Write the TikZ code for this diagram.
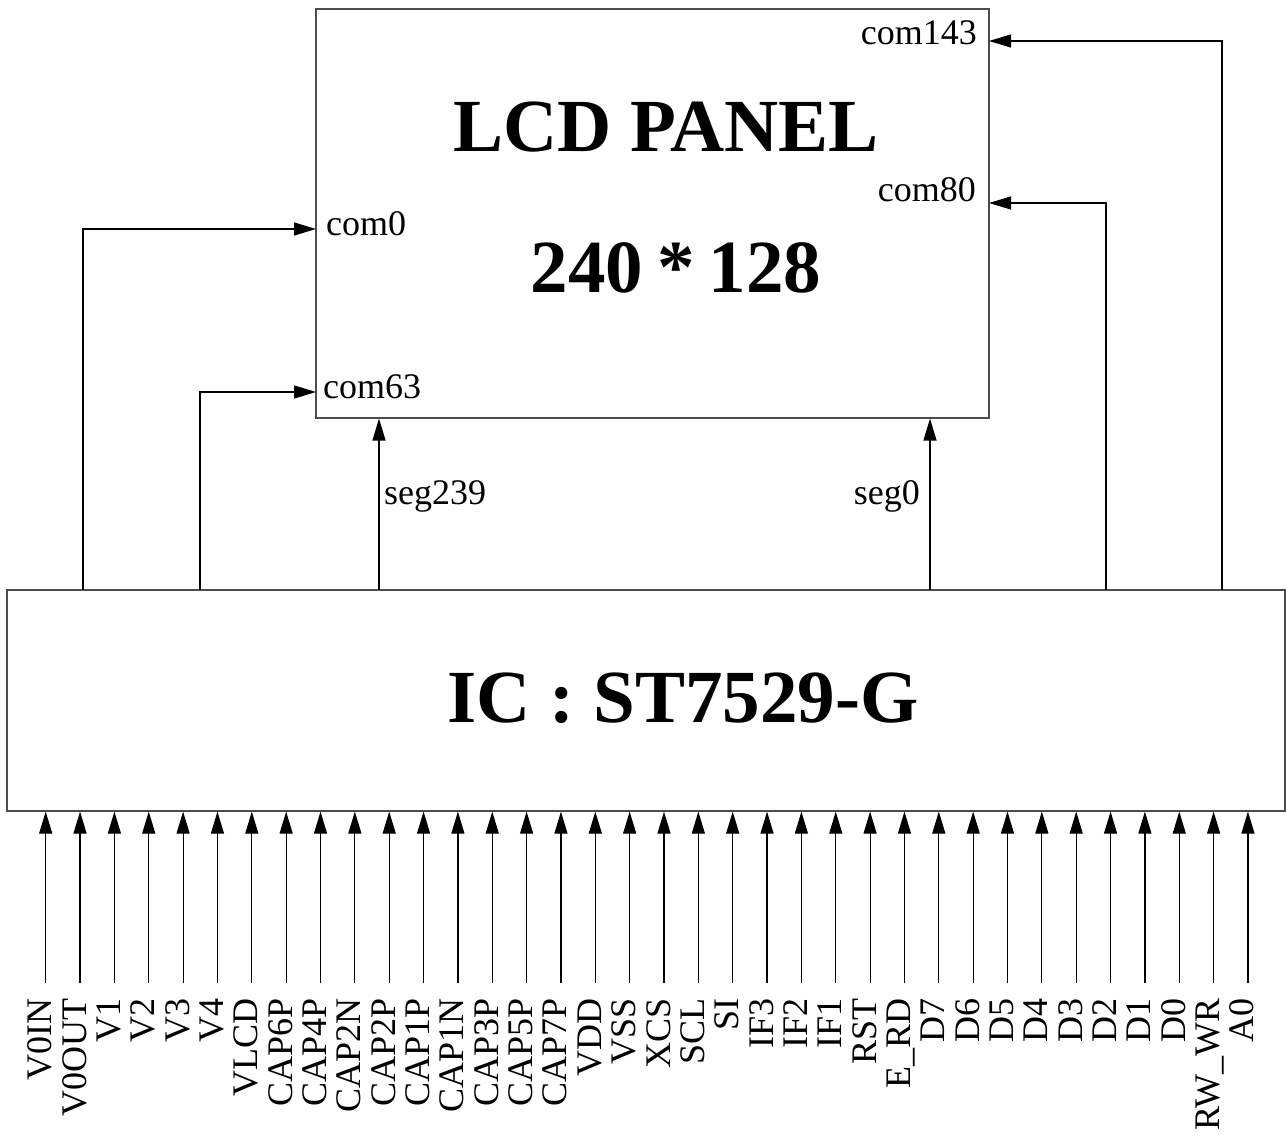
\documentclass[tikz,border=0pt]{standalone}
\usepackage{fontspec}
\setmainfont{Liberation Serif}
\usetikzlibrary{arrows.meta}
\newcommand\pinfont{\fontsize{36}{40}\selectfont}
\newcommand\titlefont{\fontsize{75}{80}\selectfont\bfseries}
\tikzset{
  chip/.style={draw=black!70,line width=1.2pt,rectangle,inner sep=0pt},
  sig/.style={draw=black,line width=1.2pt,-{Triangle[length=22pt,width=13pt]}},
  lbl/.style={inner sep=0pt,font=\pinfont}
}
\begin{document}
\begin{tikzpicture}[x=1pt,y=-1pt]
\useasboundingbox (0,0) rectangle (1286,1139);

\node[chip,minimum width=673pt,minimum height=409pt] (lcd) at (652.5,213.5) {};
\node[chip,minimum width=1278pt,minimum height=221pt] (ic) at (646,700.5) {};
\node[anchor=base,inner sep=0pt,font=\titlefont] (lcdname) at (666,152) {LCD PANEL};
\node[anchor=base,inner sep=0pt,font=\titlefont] (lcdsize) at (676,293) {240\hspace{14pt}*\hspace{14pt}128};
\node[anchor=base,inner sep=0pt,font=\titlefont] (icname) at (683,722) {IC : ST7529-G};

\coordinate (c0) at (316,229);
\coordinate (c63) at (316,392);
\coordinate (c80) at (989,203);
\coordinate (c143) at (989,41);
\coordinate (ic0) at (83,590);
\coordinate (ic63) at (200,590);
\coordinate (ic80) at (1106,590);
\coordinate (ic143) at (1222,590);
\coordinate (s239) at (379,590);
\coordinate (s0) at (930,590);

\draw[sig] (ic0) |- (c0);
\draw[sig] (ic63) |- (c63);
\draw[sig] (ic80) |- (c80);
\draw[sig] (ic143) |- (c143);
\draw[sig] (s239) -- (s239 |- lcd.south);
\draw[sig] (s0) -- (s0 |- lcd.south);

\node[lbl,anchor=base west] (lc0) at (326,236) {com0};
\node[lbl,anchor=base west] (lc63) at (323,399) {com63};
\node[lbl,anchor=base east] (lc80) at (976,202) {com80};
\node[lbl,anchor=base east] (lc143) at (977,45) {com143};
\node[lbl,anchor=base west] (ls239) at (384,505) {seg239};
\node[lbl,anchor=base east] (ls0) at (920,505) {seg0};

\foreach \pname [count=\i from 0] in {V0IN,V0OUT,V1,V2,V3,V4,VLCD,CAP6P,CAP4P,CAP2N,CAP2P,CAP1P,CAP1N,CAP3P,CAP5P,CAP7P,VDD,VSS,XCS,SCL,SI,IF3,IF2,IF1,RST,E\_RD,D7,D6,D5,D4,D3,D2,D1,D0,RW\_WR,A0}{
  \pgfmathsetmacro\px{45.7+34.35*\i}
  \coordinate (pin\i) at (\px,983);
  \draw[sig] (pin\i) -- (pin\i |- ic.south);
  \node[lbl,rotate=90,anchor=base east] (pl\i) at (\px+6,998) {\pname};
}
\end{tikzpicture}
\end{document}
